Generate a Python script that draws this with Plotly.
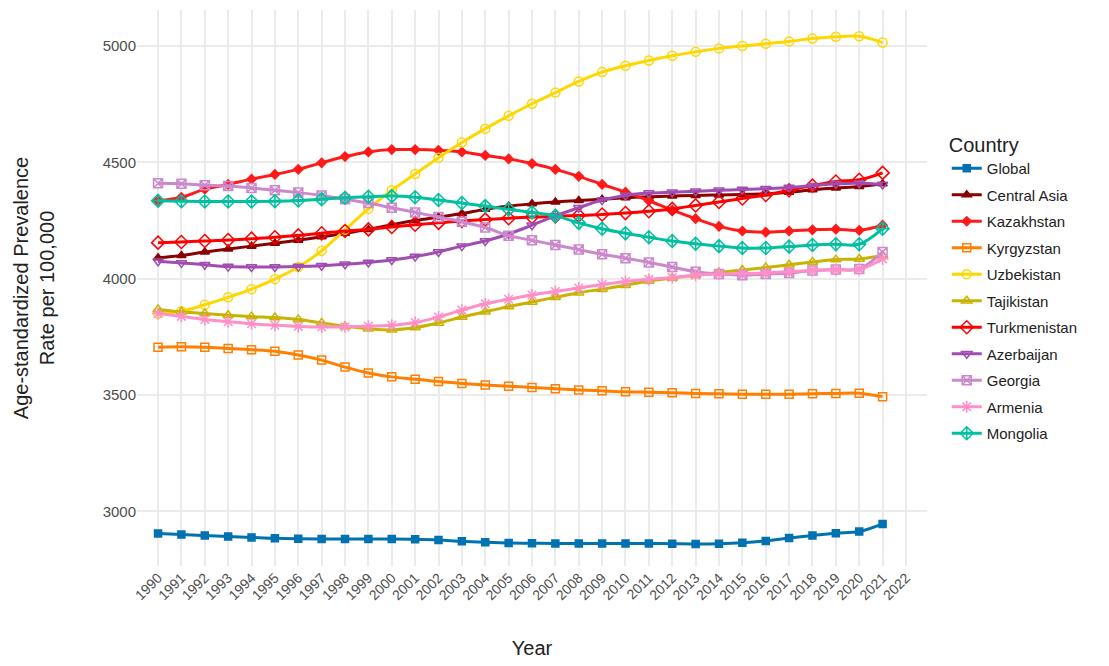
import plotly.graph_objects as go

years = list(range(1990, 2022))
series = {
 "Global": [2905,2900,2896,2892,2888,2884,2882,2881,2881,2881,2881,2880,2877,2871,2867,2864,2863,2862,2862,2862,2862,2862,2861,2860,2861,2865,2873,2885,2896,2906,2913,2946],
 "Central Asia": [4090,4100,4115,4128,4140,4152,4165,4180,4195,4212,4232,4250,4265,4280,4298,4312,4322,4330,4336,4342,4348,4352,4355,4358,4360,4362,4365,4372,4382,4390,4396,4408],
 "Kazakhstan": [4335,4350,4385,4405,4428,4448,4470,4498,4525,4545,4555,4555,4552,4545,4530,4515,4495,4470,4440,4405,4372,4335,4295,4258,4225,4205,4200,4205,4210,4213,4208,4230],
 "Kyrgyzstan": [3705,3707,3705,3700,3695,3688,3672,3650,3620,3595,3578,3568,3558,3550,3543,3538,3532,3527,3522,3518,3514,3512,3510,3507,3505,3503,3503,3503,3505,3507,3508,3493],
 "Uzbekistan": [3850,3860,3888,3920,3955,3998,4050,4120,4210,4300,4380,4450,4520,4585,4645,4700,4752,4800,4848,4888,4915,4938,4958,4975,4990,5000,5010,5020,5032,5040,5042,5015],
 "Tajikistan": [3868,3858,3850,3843,3837,3833,3825,3810,3795,3785,3780,3790,3810,3835,3858,3880,3900,3920,3940,3955,3972,3990,4003,4015,4027,4037,4048,4060,4072,4082,4085,4100],
 "Turkmenistan": [4155,4158,4162,4166,4172,4178,4186,4195,4205,4212,4222,4232,4240,4248,4254,4260,4265,4268,4272,4276,4282,4290,4300,4315,4330,4345,4360,4380,4400,4418,4425,4455],
 "Azerbaijan": [4075,4068,4060,4052,4050,4050,4052,4056,4062,4070,4080,4095,4115,4140,4162,4192,4230,4270,4305,4338,4358,4368,4372,4376,4380,4383,4387,4392,4400,4408,4410,4405],
 "Georgia": [4410,4408,4402,4398,4390,4380,4370,4358,4342,4325,4305,4285,4265,4245,4220,4185,4165,4145,4125,4105,4088,4070,4050,4030,4020,4015,4020,4025,4035,4040,4042,4115],
 "Armenia": [3850,3838,3825,3815,3806,3800,3795,3792,3793,3796,3800,3812,3835,3865,3892,3912,3930,3945,3960,3975,3988,3997,4005,4015,4020,4022,4025,4030,4035,4038,4040,4085],
 "Mongolia": [4335,4333,4332,4332,4332,4333,4336,4342,4348,4352,4355,4350,4338,4325,4312,4298,4285,4270,4240,4215,4195,4178,4162,4150,4140,4132,4132,4138,4145,4148,4148,4215],
}
styles = {
 "Global": ("#0072B2", "square", 7),
 "Central Asia": ("#8B0000", "triangle-up", 8),
 "Kazakhstan": ("#FF1A1A", "diamond", 7),
 "Kyrgyzstan": ("#FF7F00", "square-open", 8),
 "Uzbekistan": ("#FFD700", "circle-open", 9),
 "Tajikistan": ("#C8B400", "triangle-up-open", 9),
 "Turkmenistan": ("#FF0000", "diamond-open", 10),
 "Azerbaijan": ("#A04CB0", "triangle-down-open", 9),
 "Georgia": ("#CC88CC", "square-x-open", 9),
 "Armenia": ("#FF8FC8", "asterisk-open", 10),
 "Mongolia": ("#00C0A0", "diamond-cross-open", 10),
}
fig = go.Figure()
for name, vals in series.items():
    c, sym, sz = styles[name]
    fig.add_trace(go.Scatter(x=years, y=vals, name=name, mode="lines+markers", legendgroup=name,
        line=dict(color=c, width=3, shape="spline"),
        marker=dict(symbol=sym, size=sz, color=c, line=dict(color=c, width=1.5))))
fig.update_layout(
    width=1109, height=666, plot_bgcolor="white", paper_bgcolor="white",
    font=dict(family="Liberation Sans, Arial", size=15, color="#333"),
    margin=dict(l=129, r=190, t=2, b=108),
    legend=dict(title=dict(text="Country", font=dict(size=20, color="#222")), x=1.025, y=0.5, yanchor="middle",
                font=dict(size=15, color="#222"), tracegroupgap=4),
    xaxis=dict(title=dict(text="Year", font=dict(size=20, color="#222"), standoff=38), tickmode="array",
               tickvals=list(range(1990, 2023)), ticktext=[str(y) for y in range(1990, 2023)],
               tickangle=-45, range=[1989.1, 2022.9], showgrid=True, gridcolor="#ebebeb", gridwidth=1.5,
               zeroline=False, ticks="", tickfont=dict(size=14, color="#4d4d4d")),
    yaxis=dict(title=dict(text="Age-standardized Prevalence<br>Rate per 100,000", font=dict(size=20, color="#222"), standoff=42),
               range=[2765, 5155], tickvals=[3000, 3500, 4000, 4500, 5000], showgrid=True,
               gridcolor="#ebebeb", gridwidth=2, zeroline=False, ticks="", tickfont=dict(size=15, color="#4d4d4d")),
)
fig.write_html("out.html")
